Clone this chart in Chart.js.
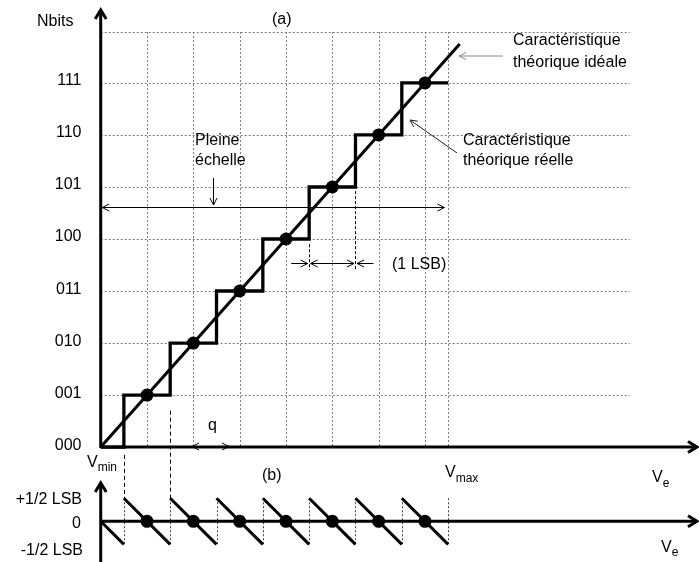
<!DOCTYPE html>
<html>
<head>
<meta charset="utf-8">
<script src="https://cdn.jsdelivr.net/npm/chart.js@4.4.1/dist/chart.umd.min.js"></script>
<style>
  html, body { margin: 0; padding: 0; background: #fff; }
  #wrap { width: 699px; height: 562px; }
</style>
</head>
<body>
<div id="wrap"><canvas id="adcChart" width="699" height="562"></canvas></div>
<script>
// codes de sortie et seuils de transition (en unites de q)
const codeLabels = ['000', '001', '010', '011', '100', '101', '110', '111'];
const codes = [0, 1, 2, 3, 4, 5, 6, 7];
const thresholds = [0.5, 1.5, 2.5, 3.5, 4.5, 5.5, 6.5];
const vMax = 7.5;
const idealEnd = 7.75;
const gridTop = 7.98;
const gridRight = 11.42;
const errHalf = 0.5;
const lsbMarks = [4.5, 5.5];
const fullScaleEnd = 7.42;

// placement (pixels)
const X0 = 96, Q = 47.2;       // origine Vmin et largeur d'un q
const Y0 = 451, DY = 53.25;    // axe (a) et hauteur d'un code
const YB0 = 527;               // axe zero de (b)
const W = 699, H = 562;
const FONT = '"Liberation Sans", Arial, sans-serif';

// caracteristique reelle en escalier
const stairData = [{x: 0, y: 0}];
thresholds.forEach((t, i) => stairData.push({x: t, y: codes[i + 1]}));
stairData.push({x: vMax, y: codes[codes.length - 1]});

const idealData = [{x: 0, y: 0}, {x: idealEnd, y: idealEnd}];
const dotData = codes.slice(1).map(c => ({x: c, y: c}));

// erreur de quantification (dents de scie)
const sawData = [{x: 0, y: 0}, {x: thresholds[0], y: -errHalf}];
thresholds.forEach((t, i) => {
  const end = i + 1 < thresholds.length ? thresholds[i + 1] : vMax;
  sawData.push({x: t, y: null});
  sawData.push({x: t, y: errHalf}, {x: end, y: -errHalf});
});
const zeroDots = codes.slice(1).map(c => ({x: c, y: 0}));

function seg(ctx, x1, y1, x2, y2) {
  ctx.beginPath();
  ctx.moveTo(x1, y1);
  ctx.lineTo(x2, y2);
  ctx.stroke();
}
function head(ctx, tx, ty, fx, fy, len, half) {
  const a = Math.atan2(ty - fy, tx - fx);
  const bx = tx - len * Math.cos(a), by = ty - len * Math.sin(a);
  const nx = -Math.sin(a) * half, ny = Math.cos(a) * half;
  ctx.beginPath();
  ctx.moveTo(bx + nx, by + ny);
  ctx.lineTo(tx, ty);
  ctx.lineTo(bx - nx, by - ny);
  ctx.stroke();
}
function arrow(ctx, fx, fy, tx, ty, both) {
  seg(ctx, fx, fy, tx, ty);
  head(ctx, tx, ty, fx, fy, 7, 3.5);
  if (both) head(ctx, fx, fy, tx, ty, 7, 3.5);
}
function sub(ctx, main, s, x, base, subBase) {
  ctx.font = '16px ' + FONT;
  ctx.fillText(main, x, base);
  const w = ctx.measureText(main).width;
  ctx.font = '12px ' + FONT;
  ctx.fillText(s, x + w, subBase);
}
const c = v => Math.round(v) + 0.5;

const drawing = {
  id: 'drawing',
  beforeDatasetsDraw(chart) {
    const {ctx} = chart;
    const {x, y, yb} = chart.scales;
    ctx.save();
    // grille pointillee
    ctx.strokeStyle = '#7d7d7d';
    ctx.lineWidth = 1;
    ctx.setLineDash([2, 2]);
    codes.slice(1).concat([gridTop]).forEach(v => {
      const py = c(y.getPixelForValue(v));
      seg(ctx, x.getPixelForValue(0), py, x.getPixelForValue(gridRight), py);
    });
    codes.slice(1).concat([vMax]).forEach(v => {
      const px = c(x.getPixelForValue(v));
      seg(ctx, px, y.getPixelForValue(gridTop), px, y.getPixelForValue(0));
    });
    // sauts de l'erreur
    ctx.strokeStyle = '#444';
    thresholds.concat([vMax]).forEach(t => {
      const px = c(x.getPixelForValue(t));
      seg(ctx, px, yb.getPixelForValue(errHalf), px, yb.getPixelForValue(-errHalf));
    });
    // raccords tiretes entre (a) et (b)
    ctx.strokeStyle = '#000';
    ctx.setLineDash([4, 3]);
    [[thresholds[0], -0.15], [thresholds[1], 0.7]].forEach(([t, top]) => {
      const px = c(x.getPixelForValue(t));
      seg(ctx, px, y.getPixelForValue(top), px, yb.getPixelForValue(errHalf));
    });
    // reperes 1 LSB
    ctx.setLineDash([3, 2]);
    [[lsbMarks[0], 3.9], [lsbMarks[1], 4.92]].forEach(([t, top]) => {
      const px = c(x.getPixelForValue(t));
      seg(ctx, px, y.getPixelForValue(top), px, 270);
    });
    ctx.setLineDash([]);

    // axes
    ctx.strokeStyle = '#000';
    ctx.lineWidth = 3;
    const ox = x.getPixelForValue(0);
    const oy = y.getPixelForValue(0);
    const zb = yb.getPixelForValue(0);
    seg(ctx, ox, oy + 1, ox, 10);
    head(ctx, ox, 10, ox, 40, 9, 5.5);
    seg(ctx, ox, oy, W - 2, oy);
    head(ctx, W - 2, oy, W - 40, oy, 9, 5.5);
    seg(ctx, ox, H, ox, 483);
    head(ctx, ox, 483, ox, 520, 9, 5.5);
    seg(ctx, ox, zb, W - 2, zb);
    head(ctx, W - 2, zb, W - 40, zb, 9, 5.5);
    ctx.restore();
  },
  afterDatasetsDraw(chart) {
    const {ctx} = chart;
    const {x, y} = chart.scales;
    ctx.save();
    ctx.fillStyle = '#000';
    ctx.textBaseline = 'alphabetic';
    ctx.font = '16px ' + FONT;

    // graduations des codes
    ctx.textAlign = 'right';
    codeLabels.forEach((lab, i) => ctx.fillText(lab, 81.5, y.getPixelForValue(codes[i]) + 2.5));
    ctx.fillText('+1/2 LSB', 82, 504);
    ctx.fillText('0', 81, 528);
    ctx.fillText('-1/2 LSB', 83, 555);

    ctx.textAlign = 'left';
    ctx.fillText('Nbits', 37, 26);
    ctx.fillText('(a)', 272, 23.5);
    ctx.fillText('(b)', 262, 479.5);
    ctx.fillText('Pleine', 195, 145);
    ctx.fillText('\u00e9chelle', 195, 165);
    ctx.fillText('(1 LSB)', 392, 268.5);
    ctx.fillText('Caract\u00e9ristique', 513, 45);
    ctx.fillText('th\u00e9orique id\u00e9ale', 513, 66.5);
    ctx.fillText('Caract\u00e9ristique', 463, 145);
    ctx.fillText('th\u00e9orique r\u00e9elle', 463, 165);
    ctx.fillText('q', 208, 430);
    sub(ctx, 'V', 'min', 87, 466.5, 470.5);
    sub(ctx, 'V', 'max', 445, 476.5, 481.5);
    sub(ctx, 'V', 'e', 652, 482, 487);
    sub(ctx, 'V', 'e', 661, 551.5, 555.5);

    // fleches d'annotation
    ctx.lineWidth = 1;
    ctx.strokeStyle = '#888';
    arrow(ctx, 503, 56, 459, 56);
    ctx.strokeStyle = '#222';
    arrow(ctx, 457, 153, 410, 120);
    ctx.strokeStyle = '#000';
    arrow(ctx, 213.5, 178, 213.5, 205);
    arrow(ctx, x.getPixelForValue(fullScaleEnd), 207.5, x.getPixelForValue(0) + 1.5, 207.5, true);
    arrow(ctx, 192, 446.5, 229, 446.5, true);
    const l1 = x.getPixelForValue(lsbMarks[0]);
    const l2 = x.getPixelForValue(lsbMarks[1]);
    arrow(ctx, l1 - 18, 263.5, l1 - 1.5, 263.5);
    arrow(ctx, l1 + 1.5, 263.5, l2 - 1.5, 263.5, true);
    arrow(ctx, l2 + 18, 263.5, l2 + 1.5, 263.5);
    ctx.restore();
  }
};

const lineBase = {showLine: true, pointRadius: 0, borderColor: '#000', backgroundColor: '#000', fill: false, tension: 0};

new Chart(document.getElementById('adcChart'), {
  type: 'scatter',
  data: {
    datasets: [
      {label: 'points', data: dotData, yAxisID: 'y', pointRadius: 6.5, borderWidth: 0, backgroundColor: '#000', showLine: false},
      {label: 'zero', data: zeroDots, yAxisID: 'yb', pointRadius: 6.5, borderWidth: 0, backgroundColor: '#000', showLine: false},
      Object.assign({label: 'ideale', data: idealData, yAxisID: 'y', borderWidth: 3}, lineBase),
      // palier horizontal puis saut vertical a chaque seuil
      Object.assign({label: 'reelle', data: stairData, yAxisID: 'y', borderWidth: 3.3, stepped: 'before'}, lineBase),
      Object.assign({label: 'erreur', data: sawData, yAxisID: 'yb', borderWidth: 3, spanGaps: false}, lineBase)
    ]
  },
  options: {
    responsive: false,
    animation: false,
    events: [],
    layout: {padding: 0},
    scales: {
      x: {type: 'linear', display: false, min: -X0 / Q, max: (W - X0) / Q},
      y: {type: 'linear', display: false, min: -(H - Y0) / DY, max: Y0 / DY},
      yb: {type: 'linear', display: false, position: 'left', min: -(H - YB0) / Q, max: YB0 / Q}
    },
    plugins: {
      legend: {display: false},
      tooltip: {enabled: false}
    }
  },
  plugins: [drawing]
});
</script>
</body>
</html>
